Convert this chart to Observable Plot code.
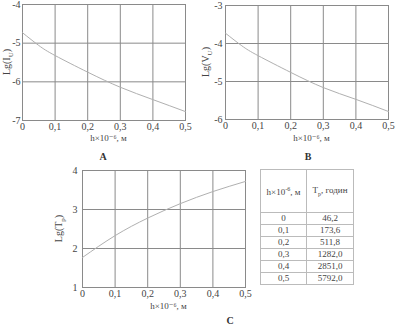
<!DOCTYPE html>
<html><head><meta charset="utf-8">
<script src="https://cdn.jsdelivr.net/npm/d3@7"></script>
<script src="https://cdn.jsdelivr.net/npm/@observablehq/plot@0.6"></script>
<style>
body{margin:0;background:#fff;font-family:"Liberation Serif","DejaVu Serif",serif;color:#333;}
#root{position:relative;width:397px;height:327px;overflow:hidden;}
.panel{position:absolute;}
svg.panel, svg.panel text{font-family:"Liberation Serif","DejaVu Serif",serif !important;}
.letter{position:absolute;font-weight:bold;font-size:10px;transform:translateX(-50%);}
table{position:absolute;left:260px;top:169px;border-collapse:collapse;font-size:9px;color:#444;}
td,th{border:1px solid #bbb;padding:0;text-align:center;font-weight:normal;}
th{height:42px;}
td{height:11px;line-height:11px;}
</style></head>
<body><div id="root"></div>
<script>
// Data
const h = [0, 0.05, 0.1, 0.2, 0.3, 0.4, 0.5];
const lgIU = [-4.73, -5.06, -5.32, -5.75, -6.14, -6.46, -6.77];
const lgVU = [-3.73, -4.06, -4.32, -4.76, -5.16, -5.47, -5.79];
const hC = [0, 0.1, 0.2, 0.3, 0.4, 0.5];
const lgTr = [1.77, 2.33, 2.78, 3.15, 3.46, 3.72];
const xTicks = [0, 0.1, 0.2, 0.3, 0.4, 0.5];
const tableH = ["0", "0,1", "0,2", "0,3", "0,4", "0,5"];
const tableT = ["46,2", "173,6", "511,8", "1282,0", "2851,0", "5792,0"];
const xLabel = "h×10⁻⁶, м";

const root = document.getElementById("root");
const fmt = d => String(d).replace(".", ",");

function makePanel({xs, ys, yDomain, yTicks, left, top, width, height, mL, mR, mT, mB, yPad, yLabelMain, yLabelSub, yLabelX, xLabelY}) {
  const data = xs.map((x, i) => ({x, y: ys[i]}));
  const p = Plot.plot({
    width, height,
    marginLeft: mL, marginRight: mR, marginTop: mT, marginBottom: mB,
    style: {fontFamily: "'Liberation Serif', serif", fontSize: "10px", color: "#444", background: "transparent", overflow: "visible"},
    x: {domain: [0, 0.5]},
    y: {domain: yDomain},
    marks: [
      Plot.gridX(xTicks, {stroke: "#8a8a8a", strokeOpacity: 1}),
      Plot.gridY(yTicks, {stroke: "#8a8a8a", strokeOpacity: 1}),
      Plot.frame({stroke: "#8a8a8a"}),
      Plot.line(data, {x: "x", y: "y", stroke: "#b0b0b0", strokeWidth: 1, curve: "natural"}),
      Plot.axisX(xTicks, {tickSize: 0, tickPadding: 2, tickFormat: fmt, label: null}),
      Plot.axisY(yTicks, {tickSize: 0, tickPadding: yPad, tickFormat: d => String(d), label: null})
    ]
  });
  p.classList.add("panel");
  p.style.left = left + "px";
  p.style.top = top + "px";
  const svg = d3.select(p);
  const cx = (mL + width - mR) / 2;
  const cy = (mT + height - mB) / 2;
  svg.append("text")
    .attr("x", cx + 5).attr("y", xLabelY)
    .attr("text-anchor", "middle").attr("dominant-baseline", "middle")
    .attr("font-size", 9).attr("fill", "#444")
    .text(xLabel);
  const t = svg.append("text")
    .attr("transform", `translate(${yLabelX},${cy}) rotate(-90)`)
    .attr("text-anchor", "middle").attr("dominant-baseline", "middle")
    .attr("font-size", 10).attr("fill", "#444");
  t.append("tspan").text(yLabelMain);
  t.append("tspan").attr("font-size", 7).attr("dy", 3).text(yLabelSub);
  t.append("tspan").attr("dy", -3).text(")");
  root.appendChild(p);
}

makePanel({xs: h, ys: lgIU, yDomain: [-7, -4], yTicks: [-7, -6, -5, -4],
  left: 0, top: 0, width: 197, height: 145, mL: 22, mR: 12, mT: 4, mB: 25, yPad: 2,
  yLabelMain: "Lg(I", yLabelSub: "U", yLabelX: 8, xLabelY: 139});
makePanel({xs: h, ys: lgVU, yDomain: [-6, -3], yTicks: [-6, -5, -4, -3],
  left: 200, top: 0, width: 197, height: 145, mL: 25, mR: 9, mT: 5, mB: 26, yPad: 3,
  yLabelMain: "Lg(V", yLabelSub: "U", yLabelX: 7, xLabelY: 139});
makePanel({xs: hC, ys: lgTr, yDomain: [1, 4], yTicks: [1, 2, 3, 4],
  left: 50, top: 160, width: 205, height: 160, mL: 32, mR: 10, mT: 10, mB: 33, yPad: 5,
  yLabelMain: "Lg(T", yLabelSub: "р", yLabelX: 10, xLabelY: 147});

[["A", 103, 151], ["B", 308, 151], ["C", 230, 315]].forEach(([s, x, y]) => {
  const d = document.createElement("div");
  d.className = "letter"; d.textContent = s;
  d.style.left = x + "px"; d.style.top = y + "px";
  root.appendChild(d);
});

const tbl = d3.select(root).append("table");
const col = [45, 46];
const hr = tbl.append("tr");
hr.append("th").style("width", col[0] + "px").html("h×10<sup style='font-size:6px'>-6</sup>, м");
hr.append("th").style("width", col[1] + "px").html("T<sub style='font-size:6px'>р</sub>, годин");
tableH.forEach((v, i) => {
  const r = tbl.append("tr");
  r.append("td").text(v);
  r.append("td").text(tableT[i]);
});
</script></body></html>
